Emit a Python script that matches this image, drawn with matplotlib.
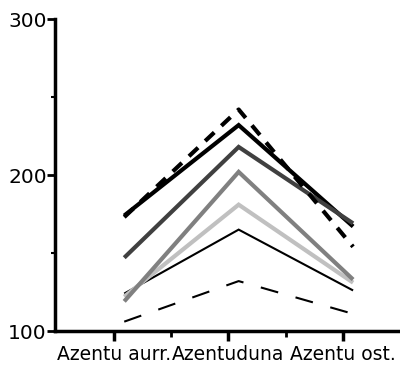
import numpy as np
import matplotlib
matplotlib.use("Agg")
import matplotlib.pyplot as plt

plt.rcParams['lines.scale_dashes'] = False
plt.rcParams['font.family'] = 'DejaVu Sans'

# categories on the x axis
categories = ['Azentu aurr.', 'Azentuduna', 'Azentu ost.']

# one list per line, values at each category
thin_dashed = [106, 132, 111]
thin_black = [124, 165, 126]
light_gray = [122, 181, 131]
mid_gray = [119, 202, 133]
dark_gray = [147, 218, 169]
thick_black = [174, 232, 167]
thick_dashed = [173, 242, 154]

series = [
    (thin_dashed, 'black', 1.5, (13, 13)),
    (thin_black, 'black', 1.5, None),
    (light_gray, '#c0c0c0', 3, None),
    (mid_gray, '#808080', 3, None),
    (thick_black, 'black', 3, None),
    (dark_gray, '#404040', 3, None),
    (thick_dashed, 'black', 3, (9, 7)),
]

fig = plt.figure(figsize=(4, 3.66), dpi=100)
ax = fig.add_axes([0.1375, 0.0956, 0.8625, 0.8524])

xpos = np.arange(len(categories)) + 0.09
for vals, col, lw, dash in series:
    line, = ax.plot(xpos, vals, color=col, lw=lw, solid_joinstyle='miter',
                    solid_capstyle='butt', dash_capstyle='butt')
    if dash:
        line.set_dashes(dash)

ax.set_xlim(-0.515, 2.5)
ax.set_ylim(100, 300)

ax.set_xticks(np.arange(len(categories)))
ax.set_xticklabels(categories, fontsize=13.5)
ax.set_xticks([0.5, 1.5], minor=True)
ax.set_yticks([100, 200, 300])
ax.set_yticks([150, 250], minor=True)
ax.tick_params(axis='y', labelsize=14.5, width=2, length=6, pad=0)
ax.tick_params(axis='y', which='minor', width=1.5, length=3)
ax.tick_params(axis='x', width=2.5, length=7, pad=3)
ax.tick_params(axis='x', which='minor', width=2, length=4)

for s in ['top', 'right']:
    ax.spines[s].set_visible(False)
for s in ['left', 'bottom']:
    ax.spines[s].set_linewidth(2.5)

fig.savefig('out.png', dpi=100)
